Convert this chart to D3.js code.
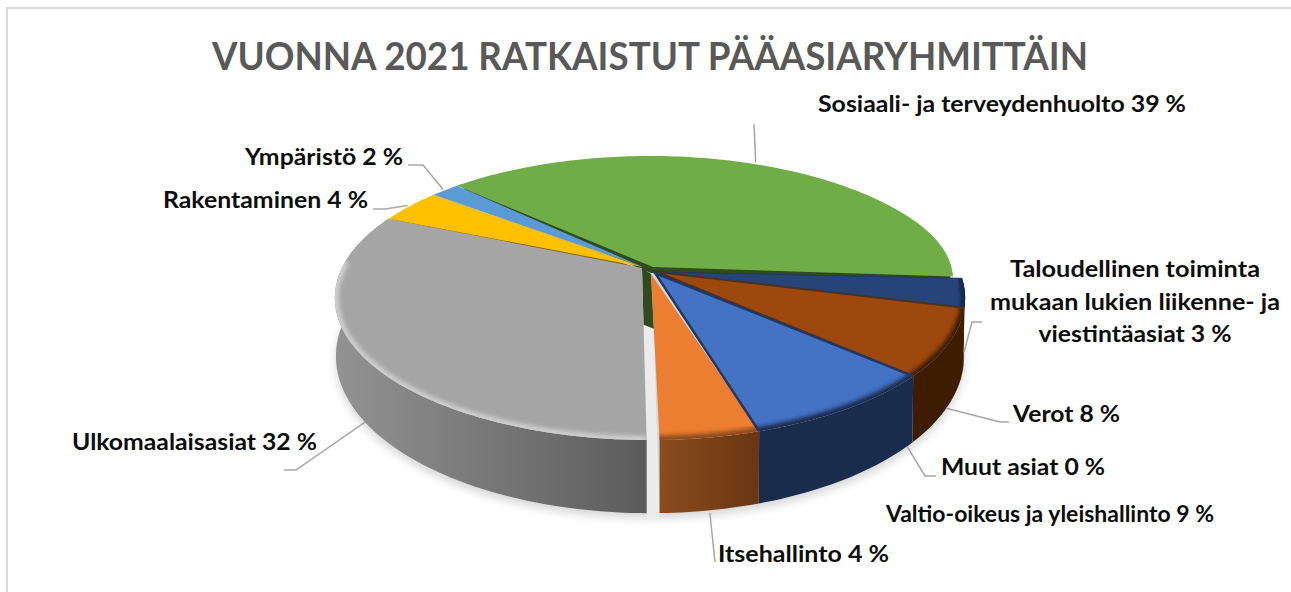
<!DOCTYPE html>
<html>
<head>
<meta charset="utf-8">
<script src="https://cdn.jsdelivr.net/npm/d3@7"></script>
<style>
    html, body { margin: 0; padding: 0; background: #fff; overflow: hidden; }
    text { font-family: Lato, "Open Sans", sans-serif; font-weight: bold; }
</style>
</head>
<body>
<svg id="chart" width="1291" height="592"></svg>
<script>
var titleText = "VUONNA 2021 RATKAISTUT PÄÄASIARYHMITTÄIN";
var categories = ["Sosiaali- ja terveydenhuolto", "Taloudellinen toiminta mukaan lukien liikenne- ja viestintäasiat", "Verot", "Muut asiat", "Valtio-oikeus ja yleishallinto", "Itsehallinto", "Ulkomaalaisasiat", "Rakentaminen", "Ympäristö"];
// they round to the percentages in the labels
var shares = [38.75, 3.47, 7.5, 0, 8.5, 4.25, 31.75, 3.97, 1.81];

var topColors = ["#70ad47", "#264478", "#9e480e", "#636363", "#4472c4", "#ed7d31", "#a5a5a5", "#ffc000", "#5b9bd5"];
var rimColors = ["#70ad47", "#14284c", "#3d1c02", "#636363", "#1a2c4e", "#8c4c1e", "#cfcfcf", "#ffc000", "#5b9bd5"];
var wallColors = ["#2f4a1e", "#14284c", "#3d1c02", "#333", "#1a2c4e", "url(#wallOrange)", "url(#wallGrey)", "#7f6000", "#2e5c88"];

// slices do not quite meet in the middle, each has its own tip
var apexDx = [3, 8, 7, 0, 5, 1, -8, -7, -7];
var apexDy = [-1, 4, 4, 0, 5, 6, 0, -1, -1];

var width = 1291, height = 592;
var cx = 650;
var k = 0.2113; // perspective
var topDisc = {c: 268, a: 135.7, r: 308};
var botDisc = {c: 323, a: 150, r: 307};
var deg = Math.PI / 180;

var svg = d3.select("#chart");
var defs = svg.append("defs");

var gradGrey = defs.append("linearGradient").attr("id", "wallGrey").attr("gradientUnits", "userSpaceOnUse")
    .attr("x1", 340).attr("x2", 648).attr("y1", 0).attr("y2", 0);
gradGrey.append("stop").attr("offset", 0).attr("stop-color", "#929292");
gradGrey.append("stop").attr("offset", 1).attr("stop-color", "#5b5b5b");
var gradOrange = defs.append("linearGradient").attr("id", "wallOrange").attr("gradientUnits", "userSpaceOnUse")
    .attr("x1", 660).attr("x2", 755).attr("y1", 0).attr("y2", 0);
gradOrange.append("stop").attr("offset", 0).attr("stop-color", "#8c4c1e");
gradOrange.append("stop").attr("offset", 1).attr("stop-color", "#693713");

defs.append("filter").attr("id", "shadow").attr("x", "-10%").attr("y", "-10%").attr("width", "120%").attr("height", "130%")
    .append("feGaussianBlur").attr("stdDeviation", 5);
defs.append("filter").attr("id", "soft").attr("x", "-10%").attr("y", "-10%").attr("width", "120%").attr("height", "120%")
    .append("feGaussianBlur").attr("stdDeviation", 2.2);

function project(a, disc, frac) {
    var u = frac * Math.sin(a), v = -frac * Math.cos(a);
    var s = 1 / (1 - k * v);
    return [cx + disc.r * u * s, disc.c + disc.a * v * s];
}

var line = d3.line();

function arcPoints(a0, a1, disc) {
    var n = Math.max(2, Math.ceil(Math.abs(a1 - a0) / 0.02));
    return d3.range(n + 1).map(function(i) {
        return project(a0 + (a1 - a0) * i / n, disc, 1);
    });
}

var slices = d3.pie().sort(null)
    .startAngle(-46 * deg)
    .endAngle(314 * deg)(shares);

// small cuts where neighbours do not touch: before grey, after orange, before navy
var startPad = [0, 0.8, 0, 0, 0, 0, 1.6, 0, 0];
var endPad = [0, 0, 0, 0, 0, 0.3, 0, 0, 0];

slices.forEach(function(d, i) {
    d.a0 = d.startAngle + startPad[i] * deg;
    d.a1 = d.endAngle - endPad[i] * deg;
    d.apex = [cx + apexDx[i], topDisc.c + apexDy[i]];
    d.topPts = [d.apex].concat(arcPoints(d.a0, d.a1, topDisc));
});

// green pulls in a little towards its right end
var greenPts = slices[0].topPts;
greenPts.slice(-24).forEach(function(p, i) {
    var t = 1 - 0.027 * Math.pow((i + 1) / 24, 2);
    p[0] = cx + (p[0] - cx) * t;
});

// soft shadow under the whole pie
svg.append("path")
    .attr("d", line(arcPoints(0, 2 * Math.PI, botDisc)) + "Z")
    .attr("fill", "#000")
    .attr("opacity", 0.16)
    .attr("transform", "translate(0,5)")
    .attr("filter", "url(#shadow)");

var orange = slices[5], grey = slices[6];
var orangeEdge = d3.interpolate(orange.apex, project(orange.a1, topDisc, 1));
var greyEdge = d3.interpolate(grey.apex, project(grey.a0, topDisc, 1));

// the gap between grey and orange is paler than the shadow
svg.append("path")
    .attr("d", line([greyEdge(0.3), orangeEdge(0.3), project(orange.a1, botDisc, 1.02), project(grey.a0, botDisc, 1.02)]) + "Z")
    .attr("fill", "#ececec");

// outer walls, only the front ones can be seen
var front = slices.filter(function(d, i) { return i >= 1 && i <= 6 && d.value > 0; });
svg.append("g").selectAll("path")
    .data(front)
    .enter()
    .append("path")
    .attr("d", function(d) {
        return line(arcPoints(d.a0, d.a1, topDisc).concat(arcPoints(d.a1, d.a0, botDisc))) + "Z";
    })
    .attr("fill", function(d) { return wallColors[d.index]; });

// dark inner strip showing in the gap under the middle
svg.append("path")
    .attr("d", line([grey.apex, orange.apex, orangeEdge(0.33), greyEdge(0.33)]) + "Z")
    .attr("fill", wallColors[0]);

// thickness seen along the cut edges of green and yellow
svg.append("path")
    .attr("d", line(slices[0].topPts) + "Z")
    .attr("fill", wallColors[0])
    .attr("transform", "translate(-2,6)");
svg.append("path")
    .attr("d", line(slices[7].topPts) + "Z")
    .attr("fill", wallColors[7])
    .attr("transform", "translate(0,3)");

var drawn = slices.filter(function(d) { return d.value > 0; });
var tops = svg.append("g").selectAll("g")
    .data(drawn)
    .enter()
    .append("g");

tops.append("clipPath")
    .attr("id", function(d) { return "clip" + d.index; })
    .append("path")
    .attr("d", function(d) { return line(d.topPts) + "Z"; });

tops.append("path")
    .attr("d", function(d) { return line(d.topPts) + "Z"; })
    .attr("fill", function(d) { return topColors[d.index]; });

// bevel along the outer edge
tops.filter(function(d) { return d.index >= 1 && d.index <= 6; })
    .append("g")
    .attr("clip-path", function(d) { return "url(#clip" + d.index + ")"; })
    .append("path")
    .attr("d", function(d) {
        var a1 = d.index == 6 ? d.a0 + (d.a1 - d.a0) * 0.82 : d.a1 + 0.05;
        var a0 = d.index == 6 ? d.a0 : d.a0 - 0.05;
        return line(arcPoints(a0, a1, topDisc));
    })
    .attr("fill", "none")
    .attr("stroke", function(d) { return rimColors[d.index]; })
    .attr("stroke-width", function(d) { return d.index == 6 ? 8 : 9; })
    .attr("filter", "url(#soft)");

// dark cut lines between the front slices
var edgeWidths = {1: 1, 2: 2, 4: 2.5};
[1, 2, 4].forEach(function(i) {
    var d = slices[i];
    svg.append("path")
        .attr("d", line([project(d.a0, topDisc, 1), d.apex, project(d.a1, topDisc, 1)]))
        .attr("fill", "none")
        .attr("stroke", i == 2 ? "#4a3420" : "#1f3864")
        .attr("stroke-width", edgeWidths[i]);
});

// labels
var fontSize = 23;
var labelLayout = [
    {lines: ["Sosiaali- ja terveydenhuolto 39 %"], x: 818, y: 112, w: [368], disc: topDisc, frac: 1.02, shift: 0, elbow: [[754, 124]]},
    {lines: ["Taloudellinen toiminta", "mukaan lukien liikenne- ja", "viestintäasiat 3 %"], x: 1135, y: 277, w: [250, 290, 193], mid: true, disc: botDisc, frac: 1.0, shift: 1, elbow: [[972, 322], [982, 322]]},
    {lines: ["Verot 8 %"], x: 1013, y: 422, w: [107], disc: botDisc, frac: 1.0, shift: 1, elbow: [[1000, 422], [1009, 422]]},
    {lines: ["Muut asiat 0 %"], x: 941, y: 475, w: [164], disc: botDisc, frac: 1.0, shift: 1.5, elbow: [[925, 476], [936, 476]]},
    {lines: ["Valtio-oikeus ja yleishallinto 9 %"], x: 886, y: 522, w: [328]},
    {lines: ["Itsehallinto 4 %"], x: 718, y: 562, w: [171], disc: botDisc, frac: 1.01, shift: 0, elbow: [[715, 562]]},
    {lines: ["Ulkomaalaisasiat 32 %"], x: 72, y: 450, w: [245], disc: botDisc, frac: 1.0, shift: -1.5, elbow: [[296, 470], [284, 470]]},
    {lines: ["Rakentaminen 4 %"], x: 163, y: 208, w: [205], disc: topDisc, frac: 1.01, shift: 0, elbow: [[385, 209], [373, 209]]},
    {lines: ["Ympäristö 2 %"], x: 245, y: 165, w: [158], disc: topDisc, frac: 1.01, shift: 0, elbow: [[423, 165], [408, 165]]}
];

slices.forEach(function(d, i) {
    var l = labelLayout[i];
    if (!l.disc) return;
    var mid = (d.startAngle + d.endAngle) / 2 + l.shift * deg;
    svg.append("path")
        .attr("d", line([project(mid, l.disc, l.frac)].concat(l.elbow)))
        .attr("fill", "none")
        .attr("stroke", "#a6a6a6")
        .attr("stroke-width", 1.5);
});

labelLayout.forEach(function(l) {
    l.lines.forEach(function(t, j) {
        svg.append("text")
            .attr("x", l.x)
            .attr("y", l.y + j * 32.5)
            .attr("text-anchor", l.mid ? "middle" : "start")
            .attr("font-size", fontSize)
            .attr("fill", "#0d0d0d")
            .attr("textLength", l.w[j])
            .attr("lengthAdjust", "spacingAndGlyphs")
            .text(t);
    });
});

svg.append("text")
    .attr("x", 212)
    .attr("y", 70)
    .attr("font-size", 38)
    .attr("fill", "#595959")
    .attr("textLength", 876)
    .attr("lengthAdjust", "spacingAndGlyphs")
    .text(titleText);

// chart frame, only top and left are in the picture
svg.append("path")
    .attr("d", line([[7, height], [7, 8], [width, 8]]))
    .attr("fill", "none")
    .attr("stroke", "#dcdcdc")
    .attr("stroke-width", 2);
</script>
</body>
</html>
